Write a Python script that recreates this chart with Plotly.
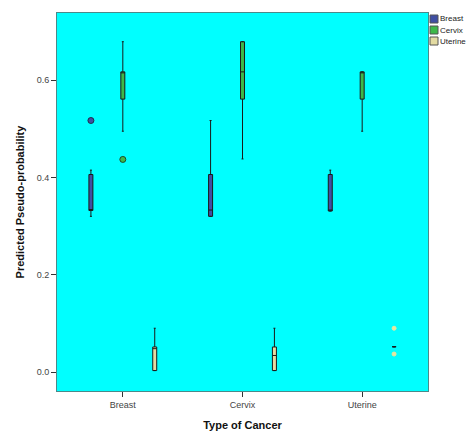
import plotly.graph_objects as go

categories = ["Breast", "Cervix", "Uterine"]
series = ["Breast", "Cervix", "Uterine"]

# per-series box statistics (one value per category)
q1 = {
    "Breast": [0.332, 0.320, 0.331],
    "Cervix": [0.561, 0.561, 0.561],
    "Uterine": [0.003, 0.003, 0.052],
}
median = {
    "Breast": [0.333, 0.333, 0.331],
    "Cervix": [0.617, 0.617, 0.617],
    "Uterine": [0.048, 0.034, 0.052],
}
q3 = {
    "Breast": [0.406, 0.406, 0.406],
    "Cervix": [0.617, 0.679, 0.617],
    "Uterine": [0.0515, 0.0515, 0.052],
}
lower = {
    "Breast": [0.320, 0.320, 0.331],
    "Cervix": [0.495, 0.438, 0.495],
    "Uterine": [0.003, 0.003, 0.052],
}
upper = {
    "Breast": [0.415, 0.517, 0.415],
    "Cervix": [0.679, 0.679, 0.617],
    "Uterine": [0.090, 0.090, 0.052],
}
outliers = {
    "Breast": [[0.517], [None], [None]],
    "Cervix": [[0.437], [None], [None]],
    "Uterine": [[None], [None], [0.090, 0.037]],
}
y_ticks = [0.0, 0.2, 0.4, 0.6]

fill = {"Breast": "#3F4FA3", "Cervix": "#3DB84A", "Uterine": "#E3DBA2"}
pt_color = {"Breast": "#3F4FA3", "Cervix": "#3DB84A", "Uterine": "#E6E6A0"}
pt_line = {"Breast": "#1f2f4a", "Cervix": "#1f4a2a", "Uterine": "#E6E6A0"}
pt_size = {"Breast": 6, "Cervix": 6, "Uterine": 4}

fig = go.Figure()
for s in series:
    fig.add_trace(go.Box(
        name=s,
        x=categories,
        q1=q1[s], median=median[s], q3=q3[s],
        lowerfence=lower[s], upperfence=upper[s],
        y=outliers[s],
        boxpoints="outliers",
        fillcolor=fill[s],
        line=dict(color="#1a1a1a", width=1),
        marker=dict(color=pt_color[s], size=pt_size[s], line=dict(color=pt_line[s], width=1)),
        whiskerwidth=0.5,
        showlegend=False,
    ))

# compact legend (SPSS style) built from the series list
W, H = 467, 425
ml, mr, mt, mb = 49, 47, 5, 42
pw, ph = W - ml - mr, H - mt - mb
def px_to_paper_x(px):
    return (px - ml) / pw
def px_to_paper_y(py):
    return 1 - (py - mt) / ph
for i, s in enumerate(series):
    top = 7 + i * 11
    fig.add_shape(type="rect", xref="paper", yref="paper",
                  x0=px_to_paper_x(ml + pw + 2), x1=px_to_paper_x(ml + pw + 10),
                  y0=px_to_paper_y(top + 8), y1=px_to_paper_y(top),
                  fillcolor=fill[s], line=dict(color="#555", width=1))
    fig.add_annotation(text=s, xref="paper", yref="paper",
                       x=px_to_paper_x(ml + pw + 10), y=px_to_paper_y(top + 4),
                       xanchor="left", yanchor="middle", showarrow=False,
                       font=dict(size=8, color="#222"))

fig.update_layout(
    width=W, height=H,
    boxmode="group", boxgap=0.2, boxgroupgap=0.875,
    paper_bgcolor="white", plot_bgcolor="#00FFFF",
    margin=dict(l=ml, r=mr, t=mt, b=mb, autoexpand=False),
    font=dict(family="Arial, Liberation Sans, sans-serif", size=9, color="#444"),
    showlegend=False,
)
fig.update_xaxes(
    title=dict(text="<b>Type of Cancer</b>", font=dict(size=11, color="#111"), standoff=12),
    range=[-0.55, 2.55], showgrid=False, ticks="outside", ticklen=5,
    tickcolor="#333", showline=True, linecolor="#4a8a8a", mirror=True, zeroline=False,
)
fig.update_yaxes(
    title=dict(text="<b>Predicted Pseudo-probability</b>", font=dict(size=11, color="#111"), standoff=9),
    range=[-0.039, 0.738], tickvals=y_ticks, tickformat=".1f",
    showgrid=False, ticks="outside", ticklen=5, tickcolor="#333",
    showline=True, linecolor="#4a8a8a", mirror=True, zeroline=False,
)

fig.write_html("out.html")
